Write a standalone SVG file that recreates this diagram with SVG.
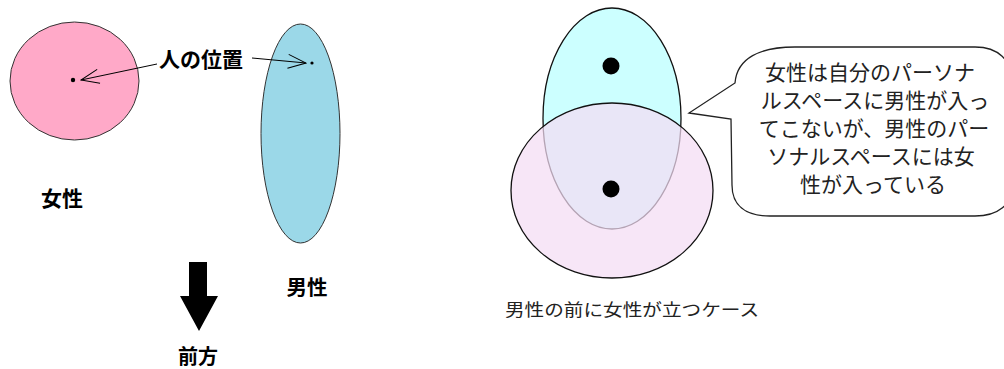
<svg xmlns="http://www.w3.org/2000/svg" width="1004" height="369" viewBox="0 0 1004 369">
<style>
.lbl{font-family:"Noto Sans CJK JP","Noto Sans CJK SC",sans-serif;font-weight:bold;fill:#000;text-anchor:middle}
.txt{font-family:"Noto Sans CJK JP","Noto Sans CJK SC",sans-serif;fill:#222;text-anchor:middle}
.co{font-size:21px}
.ln{stroke:#000;stroke-width:1;fill:none}
.dark{stroke:#222;stroke-width:1.3}
</style>
<defs>
<marker id="open" viewBox="0 0 20 16" refX="19" refY="8" markerWidth="20" markerHeight="16" markerUnits="userSpaceOnUse" orient="auto">
<path d="M1,1 L19,8 L1,15" fill="none" stroke="#000" stroke-width="1"/>
</marker>
</defs>
<rect width="1004" height="369" fill="#fff"/>

<g id="woman">
<ellipse cx="74.5" cy="81" rx="64.5" ry="59" fill="#FFA9C8" stroke="#333" stroke-width="1"/>
<circle cx="73" cy="80" r="2.2" fill="#000"/>
<text class="lbl" x="62" y="206" font-size="21">女性</text>
</g>
<g id="man">
<ellipse cx="300.5" cy="133.5" rx="39.5" ry="109.5" fill="#9BD8E8" stroke="#333" stroke-width="1"/>
<circle cx="312" cy="63" r="1.6" fill="#000"/>
<text class="lbl" x="307" y="295" font-size="20.5">男性</text>
</g>
<g id="position-label">
<text class="lbl" x="201" y="67" font-size="21">人の位置</text>
</g>
<g id="forward">
<polygon points="189,262 207,262 207,296 218,296 199,331 180,296 189,296" fill="#000"/>
<text class="lbl" x="198" y="364" font-size="20">前方</text>
</g>
<g id="connectors">
<line class="ln" x1="157" y1="64" x2="81" y2="80" marker-end="url(#open)"/>
<line class="ln" x1="252" y1="58" x2="306" y2="63" marker-end="url(#open)"/>
</g>

<g id="case">
<ellipse cx="612" cy="118.5" rx="69" ry="110.5" fill="#CCFFFF" stroke="#111" stroke-width="1.3"/>
<ellipse cx="612" cy="190.5" rx="101" ry="87.5" fill="#F4DCF4" fill-opacity="0.72" stroke="#111" stroke-width="1.3"/>
<circle cx="611" cy="66" r="8.5" fill="#000"/>
<circle cx="611" cy="189" r="8.5" fill="#000"/>
<text class="txt" x="632" y="316" font-size="17" textLength="254" lengthAdjust="spacingAndGlyphs">男性の前に女性が立つケース</text>
</g>

<g id="callout">
<path class="dark" d="M735,83 C737,58 760,47 795,47 L975,47 C998,47 1012,60 1012,82 L1012,185 C1012,205 998,216 975,216 L770,216 C745,216 732,205 732,185 L731,119 L689,113 Z" fill="#fff"/>
<text class="txt co" x="870" y="80">女性は自分のパーソナ</text>
<text class="txt co" x="875" y="108">ルスペースに男性が入っ</text>
<text class="txt co" x="874" y="136">てこないが、男性のパー</text>
<text class="txt co" x="871" y="164">ソナルスペースには女</text>
<text class="txt co" x="873" y="192">性が入っている</text>
</g>
</svg>
